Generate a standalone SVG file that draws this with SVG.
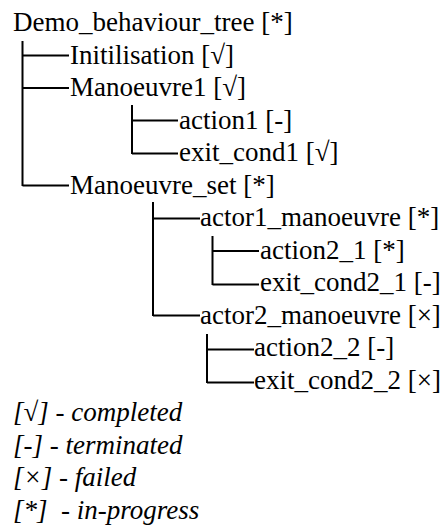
<svg xmlns="http://www.w3.org/2000/svg" width="446" height="528" viewBox="0 0 446 528">
  <style>
    .lbl { font-family: "Liberation Serif", "Times New Roman", serif; font-size: 27px; fill: #000; }
    .key { font-family: "Liberation Serif", "Times New Roman", serif; font-size: 27px; font-style: italic; fill: #000; white-space: pre; }
    .wire { fill: none; stroke: #000; stroke-width: 2; }
  </style>
  <rect width="446" height="528" fill="#fff"/>

  <!-- tree connectors -->
  <g id="connectors" class="wire">
    <path d="M22.5,41 V186 M22.5,55.5 H69 M22.5,88 H69 M22.5,185.5 H69"/>
    <path d="M132,105 V154 M132,120.5 H178 M132,153.5 H178"/>
    <path d="M153,202 V316 M153,218.5 H200 M153,315.5 H200"/>
    <path d="M212.5,236 V285 M212.5,251 H259 M212.5,284.5 H259"/>
    <path d="M207,334 V383 M207,349.5 H254 M207,382.5 H254"/>
  </g>

  <!-- tree nodes -->
  <g id="n-root"><text class="lbl" x="13" y="31">Demo_behaviour_tree [*]</text></g>
  <g id="n-init"><text class="lbl" x="70" y="63.5">Initilisation [√]</text></g>
  <g id="n-man1"><text class="lbl" x="70" y="96">Manoeuvre1 [√]</text></g>
  <g id="n-action1"><text class="lbl" x="179" y="128.5">action1 [-]</text></g>
  <g id="n-exit1"><text class="lbl" x="179" y="161">exit_cond1 [√]</text></g>
  <g id="n-manset"><text class="lbl" x="70" y="193.5">Manoeuvre_set [*]</text></g>
  <g id="n-actor1"><text class="lbl" x="200" y="226">actor1_manoeuvre [*]</text></g>
  <g id="n-action21"><text class="lbl" x="260" y="258.5">action2_1 [*]</text></g>
  <g id="n-exit21"><text class="lbl" x="260" y="291">exit_cond2_1 [-]</text></g>
  <g id="n-actor2"><text class="lbl" x="200" y="323.5">actor2_manoeuvre [×]</text></g>
  <g id="n-action22"><text class="lbl" x="254" y="356">action2_2 [-]</text></g>
  <g id="n-exit22"><text class="lbl" x="254" y="388.5">exit_cond2_2 [×]</text></g>

  <!-- status key -->
  <g id="legend">
    <text class="key" x="13" y="421">[√] - completed</text>
    <text class="key" x="13" y="453.5">[-] - terminated</text>
    <text class="key" x="13" y="486">[×] - failed</text>
    <text class="key" x="13" y="518.5">[*]  - in-progress</text>
  </g>
</svg>
